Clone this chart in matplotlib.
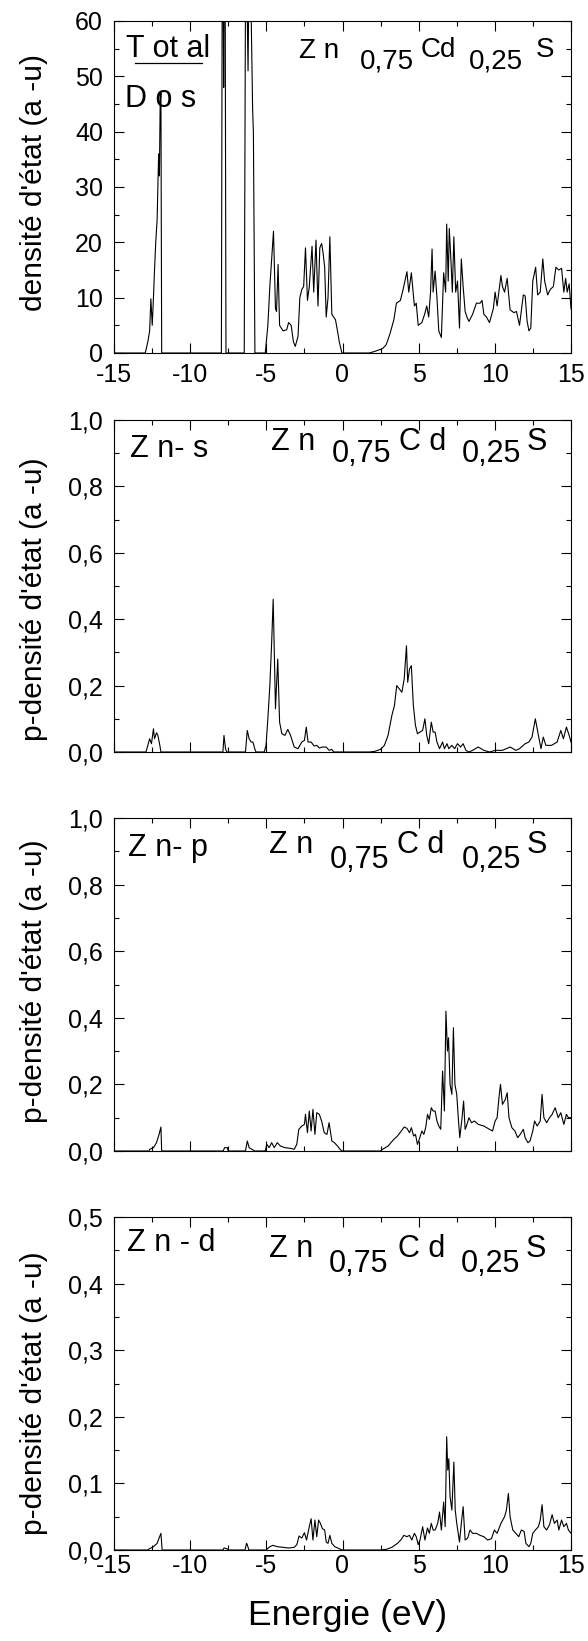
import matplotlib
matplotlib.use('Agg')
import matplotlib.pyplot as plt
from matplotlib.lines import Line2D
from matplotlib.ticker import MultipleLocator, FuncFormatter

plt.rcParams['font.family'] = ['Liberation Sans', 'DejaVu Sans']

# --- total DOS (Zn0.75Cd0.25S) ---
e_tot = [-15, -12.95, -12.78, -12.66, -12.58, -12.49, -12.41, -12.34, -12.26, -12.17, -12.07, -12.02,
         -11.97, -11.92, -11.87,
         -7.95, -7.88, -7.8, -7.72, -7.65,
         -6.45, -6.35, -6.2, -6.1, -5.9, -5.85, -5.75,
         -5.07, -4.9, -4.77, -4.65, -4.53, -4.4, -4.33, -4.23, -4.13, -3.9, -3.66, -3.54, -3.37, -3.22,
         -3.1, -2.92, -2.8, -2.67, -2.55, -2.43, -2.3, -2.18, -2.0, -1.89, -1.74, -1.61, -1.49, -1.37,
         -1.27, -1.17, -1.07, -0.95, -0.83, -0.7, -0.58, -0.46, -0.33, -0.21, -0.04,
         1.76, 2.13, 2.63, 2.87, 3.12, 3.37, 3.54, 3.8, 3.98, 4.23, 4.35, 4.52, 4.72, 4.84, 4.97, 5.21,
         5.39, 5.53, 5.66, 5.78, 5.88, 5.95, 6.08, 6.2, 6.32, 6.49, 6.64, 6.77, 6.84, 6.94, 7.01, 7.13,
         7.21, 7.31, 7.43, 7.55, 7.68, 7.8, 7.92, 8.05, 8.17, 8.3, 8.54, 8.79, 9.03, 9.16, 9.28, 9.45,
         9.65, 9.9, 10.02, 10.15, 10.4, 10.5, 10.64, 10.81, 11.0, 11.25, 11.42, 11.62, 11.87, 11.99,
         12.12, 12.24, 12.36, 12.49, 12.68, 12.81, 12.98, 13.15, 13.27, 13.47, 13.64, 13.84, 14.01,
         14.2, 14.38, 14.53, 14.65, 14.75, 14.88, 15]
dos_tot = [0, 0, 2, 4, 9.8, 5, 10, 15, 20, 24, 36, 32,
           45, 47, 0,
           0, 90, 48, 90, 0,
           0, 80, 51, 80, 44, 40, 0,
           0, 5, 12, 17, 22, 8, 7.5, 16, 5, 4, 4.2, 5.5, 5, 2,
           1.2, 3, 10, 11.5, 12, 19, 9.5, 12, 19.3, 11, 20.4, 8.5, 19, 19.8,
           18, 15.5, 6.5, 10, 21, 7, 6.5, 6.0, 4, 2, 0,
           0, 0.3, 0.8, 1.5, 3.5, 6, 9, 9.5, 11.5, 14.7, 11, 14.5, 8.5, 9, 5, 5.5,
           7, 8.5, 6.5, 11, 18.8, 11, 14.8, 10, 4, 2.8, 14.5, 11, 23.3, 13, 22.5, 16,
           11, 21, 11, 13, 4.5, 17, 12, 7.5, 6.5, 5.7, 7, 9, 9, 9.5, 7, 6.5,
           5.5, 8, 11, 8.5, 14, 12, 11, 13.5, 7.8, 7.3, 7.5, 5, 10.5, 10.3,
           5.7, 4, 4.5, 13, 15.5, 10.5, 11, 17, 13, 10.5, 11.5, 12, 15.5,
           15, 15.3, 11, 13.5, 11, 12.5, 8]

# --- Zn-s ---
e_s = [-15, -12.9, -12.78, -12.66, -12.54, -12.41, -12.34, -12.21, -12.12, -11.99, -11.92,
       -7.85, -7.78, -7.68, -7.6,
       -6.37, -6.25, -6.13, -6.0, -5.88, -5.76, -5.68,
       -5.14, -5.02, -4.9, -4.77, -4.65, -4.55, -4.4, -4.25, -4.13, -3.98, -3.78, -3.59, -3.41, -3.17,
       -2.92, -2.67, -2.5, -2.38, -2.26, -2.06, -1.86, -1.69, -1.52, -1.32, -1.07, -0.88, -0.7, -0.58,
       1.76, 2.13, 2.5, 2.75, 2.99, 3.24, 3.41, 3.56, 3.73, 3.9, 4.05, 4.2, 4.28, 4.4, 4.52, 4.65,
       4.79, 4.92, 5.09, 5.26, 5.41, 5.53, 5.66, 5.83, 5.95, 6.08, 6.2, 6.37, 6.57, 6.69, 6.86,
       6.98, 7.18, 7.36, 7.55, 7.75, 7.92, 8.1, 8.3, 8.54, 8.91, 9.28, 9.65, 10.02, 10.5, 11.0,
       11.38, 11.62, 11.99, 12.24, 12.44, 12.66, 12.86, 13.03, 13.18, 13.35, 13.72, 14.09, 14.33,
       14.5, 14.7, 14.88, 15]
dos_s = [0, 0, 0.02, 0.04, 0.025, 0.07, 0.04, 0.058, 0.05, 0.02, 0,
         0, 0.05, 0.01, 0,
         0, 0.065, 0.04, 0.03, 0.03, 0.01, 0,
         0, 0.02, 0.1, 0.2, 0.33, 0.46, 0.13, 0.28, 0.09, 0.055, 0.05, 0.068, 0.05, 0.015,
         0.01, 0.03, 0.035, 0.075, 0.03, 0.03, 0.018, 0.02, 0.012, 0.015, 0.015, 0.005, 0.008, 0,
         0, 0.002, 0.008, 0.02, 0.05, 0.11, 0.14, 0.2, 0.19, 0.18, 0.22, 0.32, 0.21, 0.25, 0.26, 0.14,
         0.08, 0.055, 0.06, 0.065, 0.1, 0.05, 0.025, 0.09, 0.06, 0.06, 0.03, 0.01, 0.03, 0.01, 0.025,
         0.01, 0.02, 0.01, 0.025, 0.015, 0.025, 0.005, 0.0, 0.005, 0.015, 0.005, 0.0, 0.005, 0.005, 0.015,
         0.005, 0.01, 0.025, 0.03, 0.045, 0.1, 0.05, 0.01, 0.045, 0.02, 0.02, 0.03, 0.065,
         0.04, 0.075, 0.05, 0.03]

# --- Zn-p ---
e_p = [-15, -12.7, -12.66, -12.41, -12.21, -12.04, -11.92, -11.87,
       -7.85, -7.73, -7.56, -7.5,
       -6.37, -6.25, -6.13, -5.95, -5.76,
       -5.07, -4.97, -4.82, -4.65, -4.48, -4.28, -4.08, -3.78, -3.41, -3.17, -3.0, -2.87, -2.67, -2.5,
       -2.43, -2.3, -2.18, -2.06, -1.94, -1.81, -1.69, -1.52, -1.37, -1.2, -1.02, -0.88, -0.7, -0.53,
       -0.33, -0.16, -0.04,
       2.5, 2.63, 2.99, 3.37, 3.61, 3.86, 4.05, 4.23, 4.4, 4.52, 4.67, 4.79, 4.92, 5.04, 5.21, 5.34,
       5.46, 5.58, 5.7, 5.83, 5.95, 6.08, 6.2, 6.32, 6.45, 6.57, 6.69, 6.79, 6.89, 6.96, 7.06, 7.18,
       7.28, 7.38, 7.5, 7.6, 7.7, 7.85, 7.95, 8.05, 8.17, 8.3, 8.47, 8.66, 8.91, 9.28, 9.65, 9.85,
       10.02, 10.15, 10.27, 10.37, 10.5, 10.69, 10.81, 10.93, 11.12, 11.32, 11.5, 11.67, 11.87,
       11.99, 12.17, 12.31, 12.49, 12.61, 12.78, 12.98, 13.1, 13.22, 13.4, 13.59, 13.76, 13.96,
       14.16, 14.33, 14.53, 14.7, 14.83, 15]
dos_p = [0, 0, 0.005, 0.01, 0.025, 0.05, 0.072, 0,
         0, 0.01, 0.01, 0,
         0, 0.03, 0.01, 0.005, 0,
         0, 0.02, 0.01, 0.025, 0.01, 0.025, 0.015, 0.01, 0.008, 0.005, 0.02, 0.065, 0.075, 0.08,
         0.11, 0.055, 0.12, 0.06, 0.125, 0.05, 0.115, 0.11, 0.09, 0.055, 0.05, 0.085, 0.03, 0.025,
         0.015, 0.005, 0,
         0, 0.005, 0.015, 0.035, 0.045, 0.06, 0.072, 0.068, 0.055, 0.07, 0.045, 0.05, 0.02, 0.035, 0.06, 0.05,
         0.07, 0.11, 0.095, 0.13, 0.12, 0.12, 0.09, 0.075, 0.065, 0.24, 0.12, 0.42, 0.3, 0.34, 0.2, 0.17,
         0.37, 0.2, 0.17, 0.1, 0.04, 0.1, 0.15, 0.065, 0.08, 0.1, 0.085, 0.09, 0.08, 0.075, 0.065, 0.06,
         0.09, 0.1, 0.16, 0.2, 0.14, 0.155, 0.175, 0.1, 0.07, 0.06, 0.04, 0.05, 0.065,
         0.04, 0.025, 0.03, 0.06, 0.09, 0.075, 0.09, 0.17, 0.1, 0.085, 0.1, 0.11, 0.13,
         0.1, 0.115, 0.08, 0.11, 0.1, 0.1]

# --- Zn-d ---
e_d = [-15, -12.8, -12.66, -12.41, -12.17, -12.04, -11.92, -11.84,
       -7.85, -7.78, -7.6, -7.5,
       -6.4, -6.3, -6.25, -6.15,
       -5.02, -4.77, -4.57, -4.28, -3.9, -3.54, -3.17, -3.0, -2.85, -2.67, -2.5, -2.36, -2.18, -2.06,
       -1.94, -1.81, -1.69, -1.57, -1.45, -1.32, -1.17, -1.07, -0.95, -0.83, -0.7, -0.51, -0.21, -0.04,
       2.5, 2.87, 3.24, 3.61, 3.86, 4.03, 4.23, 4.4, 4.55, 4.72, 4.84, 4.97, 5.09, 5.26, 5.41, 5.58,
       5.7, 5.83, 5.95, 6.08, 6.25, 6.37, 6.49, 6.64, 6.74, 6.84, 6.91, 6.98, 7.06, 7.18, 7.31, 7.4,
       7.5, 7.68, 7.8, 7.92, 8.05, 8.22, 8.37, 8.54, 8.79, 9.03, 9.28, 9.53, 9.78, 9.97, 10.15, 10.4,
       10.64, 10.76, 10.89, 11.0, 11.18, 11.38, 11.57, 11.74, 11.92, 12.04, 12.24, 12.36, 12.49,
       12.66, 12.86, 12.98, 13.1, 13.22, 13.4, 13.59, 13.76, 13.91, 14.09, 14.2, 14.38, 14.53,
       14.7, 14.83, 15]
dos_d = [0, 0, 0.002, 0.005, 0.01, 0.018, 0.025, 0,
         0, 0.003, 0.002, 0,
         0, 0.01, 0.008, 0,
         0, 0.005, 0.007, 0.005, 0.004, 0.003, 0.004, 0.008, 0.021, 0.018, 0.026, 0.015, 0.035, 0.047,
         0.015, 0.045, 0.02, 0.045, 0.04, 0.032, 0.03, 0.012, 0.01, 0.022, 0.01, 0.005, 0.002, 0,
         0, 0.001, 0.004, 0.01, 0.016, 0.022, 0.02, 0.022, 0.015, 0.025, 0.02, 0.008, 0.015, 0.035, 0.015, 0.033,
         0.025, 0.04, 0.03, 0.03, 0.04, 0.057, 0.03, 0.072, 0.035, 0.17, 0.12, 0.137, 0.08, 0.06, 0.132, 0.06,
         0.04, 0.012, 0.04, 0.065, 0.015, 0.018, 0.03, 0.025, 0.025, 0.022, 0.02, 0.015, 0.017, 0.03, 0.025, 0.04,
         0.05, 0.06, 0.085, 0.05, 0.03, 0.025, 0.02, 0.03, 0.028, 0.01, 0.005, 0.01, 0.025,
         0.03, 0.035, 0.045, 0.068, 0.035, 0.03, 0.038, 0.053, 0.04, 0.045, 0.03, 0.045, 0.035,
         0.04, 0.03, 0.025]

panels = [
    (e_tot, dos_tot, 60, 10, "densité d'état (a -u)"),
    (e_s, dos_s, 1.0, 0.2, "p-densité d'état (a -u)"),
    (e_p, dos_p, 1.0, 0.2, "p-densité d'état (a -u)"),
    (e_d, dos_d, 0.5, 0.1, "p-densité d'état (a -u)"),
]

W, H = 588, 1641
fig = plt.figure(figsize=(W / 100, H / 100), dpi=100)

# axes boxes in pixels: top, bottom
boxes = [(21, 353), (420, 752), (818, 1151), (1217, 1550)]
label_y = [0.515, 0.46, 0.51, 0.47]
xpads = [7, 3, 3, 3]
left, right = 114, 571

axes = []
for i, ((e, d, ymax, ystep, ylab), (top, bot)) in enumerate(zip(panels, boxes)):
    ax = fig.add_axes([left / W, 1 - bot / H, (right - left) / W, (bot - top) / H])
    ax.plot(e, d, color='black', lw=0.8)
    ax.set_xlim(-15, 15)
    ax.set_ylim(0, ymax)
    ax.xaxis.set_major_locator(MultipleLocator(5))
    ax.xaxis.set_minor_locator(MultipleLocator(2.5))
    ax.yaxis.set_major_locator(MultipleLocator(ystep))
    ax.yaxis.set_minor_locator(MultipleLocator(ystep / 2))
    if i == 0:
        ax.yaxis.set_major_formatter(FuncFormatter(lambda v, p: '%d' % round(v)))
    else:
        ax.yaxis.set_major_formatter(FuncFormatter(lambda v, p: ('%.1f' % v).replace('.', ',')))
    ax.xaxis.set_major_formatter(FuncFormatter(lambda v, p: '%d' % round(v)))
    ax.tick_params(which='both', direction='in', top=True, right=True, width=0.8)
    ax.tick_params(which='major', length=7)
    ax.tick_params(which='minor', length=3.5)
    ax.tick_params(axis='y', labelsize=18, pad=8)
    ax.tick_params(axis='x', labelsize=18, pad=xpads[i])
    if i in (1, 2):
        ax.tick_params(axis='x', labelbottom=False)
    for s in ax.spines.values():
        s.set_linewidth(0.8)
    ax.set_ylabel(ylab, fontsize=21.5)
    ax.yaxis.set_label_coords(-0.144, label_y[i])
    axes.append(ax)

axes[3].set_xlabel('Energie (eV)', fontsize=25.5)
axes[3].xaxis.set_label_coords(0.51, -0.148)


def put(px, py, s, size):
    fig.text(px / W, 1 - py / H, s, ha='center', va='baseline', fontsize=size)


# panel 1 annotations
put(168.5, 57, 'T ot al', 22)
put(161, 107, 'D o s', 22)
fig.add_artist(Line2D([135 / W, 202 / W], [1 - 63 / H, 1 - 63 / H], color='black', lw=0.9))
for s, x, y in [('Z n', 319, 58), ('0,75', 387, 69), ('Cd', 438.5, 57), ('0,25', 495.5, 69), ('S', 545.5, 57)]:
    put(x, y, s, 20)

# orbital labels and formula pieces for the partial panels
orb_labels = ['Z n- s', 'Z n- p', 'Z n - d']
orb_pos = [(169, 457), (168, 856), (171, 1251)]
form_base = [450, 853, 1257]
sub_drop = [12, 15, 15]
form_x = [(293.5, 361.5, 422.5, 491.5, 537), (291, 359.5, 420.5, 491, 536.5), (291, 358.5, 421.5, 490.5, 536)]
for lab, (lx, ly), b, dy, xs in zip(orb_labels, orb_pos, form_base, sub_drop, form_x):
    put(lx, ly, lab, 22)
    put(xs[0], b, 'Z n', 22)
    put(xs[1], b + dy, '0,75', 22)
    put(xs[2], b, 'C d', 22)
    put(xs[3], b + dy, '0,25', 22)
    put(xs[4], b, 'S', 22)

fig.savefig('out.png', dpi=100)
